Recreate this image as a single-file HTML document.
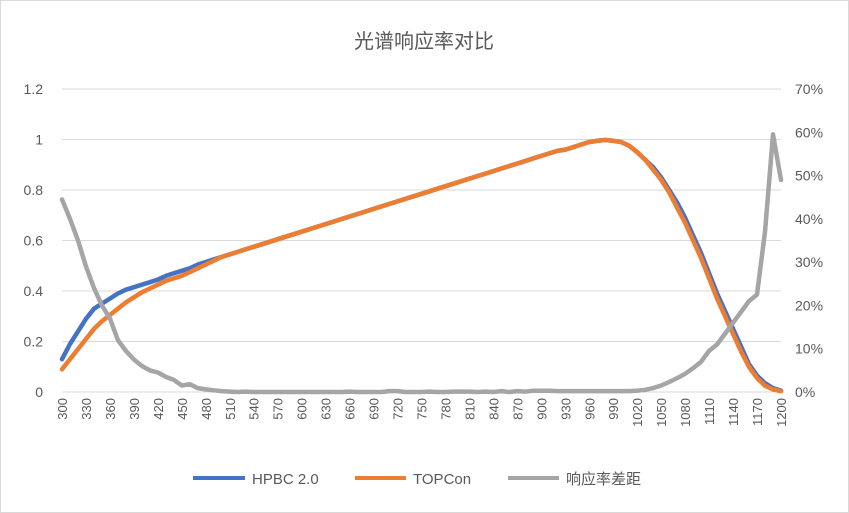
<!DOCTYPE html>
<html><head><meta charset="utf-8"><style>
body{margin:0;background:#fff}
svg{display:block;font-family:"Liberation Sans","Noto Sans CJK SC",sans-serif}
</style></head><body>
<svg id="chart" width="849" height="513">
<rect x="0.5" y="0.5" width="848" height="512" fill="#fff" stroke="#d9d9d9"/>
<text x="424" y="48" text-anchor="middle" font-size="20" fill="#595959">光谱响应率对比</text>
<g id="grid"></g><g id="yl"></g><g id="yr"></g><g id="xl"></g><g id="series"></g>
<g>
<line x1="193" y1="478" x2="245" y2="478" stroke="#4472C4" stroke-width="4"/>
<text x="252" y="484" font-size="15" fill="#595959">HPBC 2.0</text>
<line x1="355" y1="478" x2="406" y2="478" stroke="#ED7D31" stroke-width="4"/>
<text x="413" y="484" font-size="15" fill="#595959">TOPCon</text>
<line x1="508" y1="478" x2="559" y2="478" stroke="#A5A5A5" stroke-width="4"/>
<text x="566" y="484" font-size="15" fill="#595959">响应率差距</text>
</g>
</svg>
<script>
const categories=[];for(let w=300;w<=1200;w+=10)categories.push(w);
const hpbc=[.13,.19,.24,.29,.33,.35,.37,.39,.405,.415,.425,.435,.445,.46,.47,.48,.49,.505,.515,.525,
.535,.545,.555,.565,.575,.585,.595,.605,.615,.625,.635,.645,.655,.665,.675,.685,.695,.705,.715,.725,
.735,.745,.755,.765,.775,.785,.795,.805,.815,.825,.835,.845,.855,.865,.875,.885,.895,.905,.915,.925,
.935,.945,.955,.96,.97,.98,.99,.995,.998,.995,.99,.975,.95,.92,.89,.85,.80,.75,.69,.62,
.55,.47,.39,.32,.25,.18,.11,.065,.035,.015,.005];
const topcon=[.09,.13,.17,.21,.25,.28,.305,.33,.355,.375,.395,.41,.425,.44,.45,.46,.475,.49,.505,.52,
.535,.545,.555,.565,.575,.585,.595,.605,.615,.625,.635,.645,.655,.665,.675,.685,.695,.705,.715,.725,
.735,.745,.755,.765,.775,.785,.795,.805,.815,.825,.835,.845,.855,.865,.875,.885,.895,.905,.915,.925,
.935,.945,.955,.96,.97,.98,.99,.995,.998,.995,.99,.975,.95,.92,.88,.84,.79,.73,.67,.60,
.53,.45,.37,.30,.23,.16,.10,.055,.025,.01,.003];
const gap=[44.5,40,35,29,24,20,17,12,9.5,7.5,6,5,4.5,3.5,2.8,1.5,1.8,0.9,0.6,0.4,
0.2,0.1,0,0.1,0,0,0,0,0,0,0,0,0,0,0,0,0.1,0,0,0,
0,0.2,0.2,0,0,0,0.1,0,0,0.1,0.1,0.1,0,0.1,0,0.2,0,0.2,0.1,0.3,
0.3,0.3,0.2,0.2,0.2,0.2,0.2,0.2,0.2,0.2,0.2,0.2,0.3,0.5,0.9,1.5,2.3,3.2,4.2,5.5,
7,9.5,11,13.5,16,18.5,21,22.5,37,59.5,49];
const leftTicks=["0","0.2","0.4","0.6","0.8","1","1.2"];
const rightTicks=["0%","10%","20%","30%","40%","50%","60%","70%"];
const NS="http://www.w3.org/2000/svg";
const X0=62,X1=781,Y0=392,Y1=89;
const x=i=>X0+(X1-X0)*i/(categories.length-1);
const yL=v=>Y0-(Y0-Y1)*v/1.2;
const yR=v=>Y0-(Y0-Y1)*v/70;
function mk(tag,parent,attrs){const e=document.createElementNS(NS,tag);for(const k in attrs)e.setAttribute(k,attrs[k]);document.getElementById(parent).appendChild(e);return e;}
leftTicks.forEach((t,i)=>{const v=i*0.2,yy=yL(v);
 const g=mk('line','grid',{x1:X0,x2:X1,y1:yy,y2:yy,stroke:'#d9d9d9','stroke-width':1});
 
 
 const tx=mk('text','yl',{x:43,y:yy+5,'text-anchor':'end','font-size':14,fill:'#595959'});tx.textContent=t;
 
 });
rightTicks.forEach((t,i)=>{const yy=yR(i*10);
 const tx=mk('text','yr',{x:795,y:yy+5,'font-size':14,fill:'#595959'});tx.textContent=t;
 
 });
categories.forEach((c,i)=>{if((c-300)%30)return;const xx=x(i);
 const tx=mk('text','xl',{x:0,y:0,'text-anchor':'end','font-size':13,fill:'#595959',transform:`translate(${xx+5},398) rotate(-90)`});tx.textContent=c;
 
 });
function line(vals,fy,color,name){const d=vals.map((v,i)=>(i?'L':'M')+x(i).toFixed(1)+','+fy(v).toFixed(1)).join('');
 const p=mk('path','series',{d:d,fill:'none',stroke:color,'stroke-width':4.5,'stroke-linejoin':'round','stroke-linecap':'round'});
 
 }
line(hpbc,yL,'#4472C4','hpbc-line');
line(topcon,yL,'#ED7D31','topcon-line');
line(gap,yR,'#A5A5A5','gap-line');
</script>
</body></html>
